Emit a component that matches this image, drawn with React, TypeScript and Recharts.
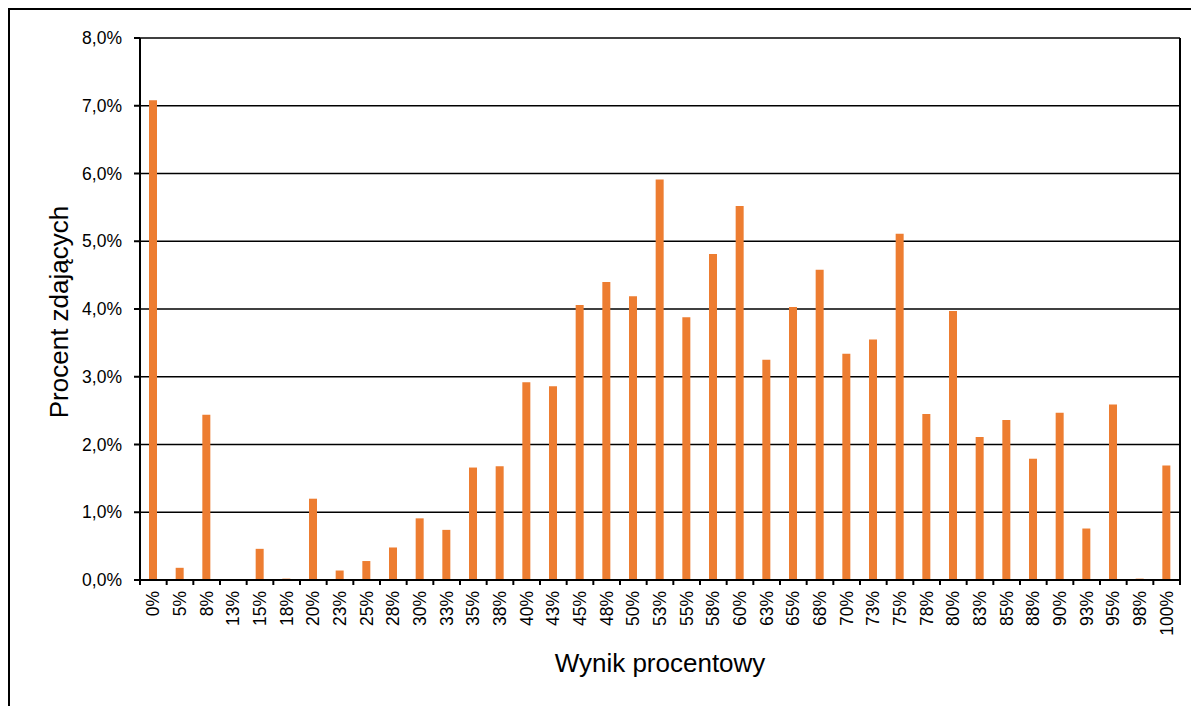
import React from 'react';
import { BarChart, Bar, XAxis, YAxis, CartesianGrid } from 'recharts';

const categories = [
  '0%', '5%', '8%', '13%', '15%', '18%', '20%', '23%', '25%', '28%',
  '30%', '33%', '35%', '38%', '40%', '43%', '45%', '48%', '50%', '53%',
  '55%', '58%', '60%', '63%', '65%', '68%', '70%', '73%', '75%', '78%',
  '80%', '83%', '85%', '88%', '90%', '93%', '95%', '98%', '100%',
];

// percent of students per score bucket
const shares = [
  7.08, 0.18, 2.44, 0, 0.46, 0.02, 1.2, 0.14, 0.28, 0.48,
  0.91, 0.74, 1.66, 1.68, 2.92, 2.86, 4.06, 4.4, 4.19, 5.91,
  3.88, 4.81, 5.52, 3.25, 4.03, 4.58, 3.34, 3.55, 5.11, 2.45,
  3.97, 2.11, 2.36, 1.79, 2.47, 0.76, 2.59, 0.02, 1.69,
];

const yTicks = [0, 1, 2, 3, 4, 5, 6, 7, 8];

const data = categories.map((name, i) => ({ name, value: shares[i] }));

const W = 1191;
const H = 698;
const FONT = "Arial, 'Liberation Sans', sans-serif";
const PLOT_W = 1040;
const BAND = PLOT_W / categories.length;
const X_TICK_SIZE = 5;
const X_TICK_MARGIN = 6;

const fmt = (v: number) => `${v.toFixed(1).replace('.', ',')}%`;

const XTick = (props: any) => {
  const { x, y, payload, index } = props;
  const top = y - X_TICK_MARGIN - X_TICK_SIZE;
  const isLast = index === categories.length - 1;
  return (
    <g>
      <line x1={x - BAND / 2} x2={x - BAND / 2} y1={top} y2={top + X_TICK_SIZE} stroke="#000" strokeWidth={2} />
      {isLast && (
        <line x1={x + BAND / 2} x2={x + BAND / 2} y1={top} y2={top + X_TICK_SIZE} stroke="#000" strokeWidth={2} />
      )}
      <text
        x={x}
        y={y}
        dy="0.35em"
        transform={`rotate(-90, ${x}, ${y})`}
        textAnchor="end"
        fontSize={17.5}
        fontFamily={FONT}
        fill="#000"
      >
        {payload.value}
      </text>
    </g>
  );
};

const App: React.FC = () => {
  return (
    <div style={{ position: 'relative', width: W, height: H }}>
      <style>{'body{overflow:hidden}'}</style>
      <BarChart width={W} height={H} data={data} margin={{ top: 30, right: 18, left: 52, bottom: 0 }} barSize={8}>
        <CartesianGrid yAxisId="l" vertical={false} stroke="#000" strokeWidth={1.5} />
        <XAxis
          dataKey="name"
          interval={0}
          height={126}
          tickSize={X_TICK_SIZE}
          tickMargin={X_TICK_MARGIN}
          tickLine={false}
          tick={<XTick />}
          axisLine={{ stroke: '#000', strokeWidth: 2 }}
        />
        <YAxis
          yAxisId="l"
          width={80}
          domain={[0, 8]}
          ticks={yTicks}
          tickFormatter={fmt}
          tickSize={6}
          tickMargin={12}
          tickLine={{ stroke: '#000', strokeWidth: 2 }}
          axisLine={{ stroke: '#000', strokeWidth: 2 }}
          tick={{ fill: '#000', fontSize: 17.5, fontFamily: FONT }}
        />
        <YAxis
          yAxisId="r"
          orientation="right"
          width={1}
          domain={[0, 8]}
          tick={false}
          tickLine={false}
          axisLine={{ stroke: '#000', strokeWidth: 2 }}
        />
        <Bar yAxisId="l" dataKey="value" fill="#ED7D31" isAnimationActive={false} />
      </BarChart>
      <svg width={W} height={H} style={{ position: 'absolute', left: 0, top: 0, pointerEvents: 'none' }}>
        <line x1={0} y1={1} x2={W} y2={1} stroke="#000" strokeWidth={2} />
        <line x1={1} y1={0} x2={1} y2={H} stroke="#000" strokeWidth={2} />
        <text x={652} y={664} textAnchor="middle" fontSize={26} fontFamily={FONT} fill="#000">
          Wynik procentowy
        </text>
        <text
          x={60}
          y={304}
          textAnchor="middle"
          transform="rotate(-90, 60, 304)"
          fontSize={26}
          fontFamily={FONT}
          fill="#000"
        >
          Procent zdających
        </text>
      </svg>
    </div>
  );
};

export default App;
